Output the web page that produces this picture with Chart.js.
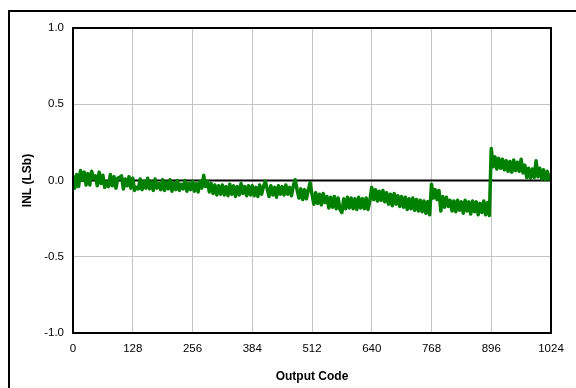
<!DOCTYPE html>
<html>
<head>
<meta charset="utf-8">
<script src="https://cdn.jsdelivr.net/npm/chart.js@4"></script>
<style>
  html, body { margin: 0; padding: 0; background: #fff; }
  #wrap { position: relative; width: 576px; height: 388px; overflow: hidden; }
  #frame { position: absolute; left: 8px; top: 10px; width: 620px; height: 420px; border: 2px solid #000; }
  canvas { position: absolute; left: 0; top: 0; }
</style>
</head>
<body>
<div id="wrap">
  <div id="frame"></div>
  <canvas id="chartInl" width="576" height="388"></canvas>
</div>
<script>
// INL, one value every 4 codes (0..1024)
const codeStep = 4;
const inlValues = [
  0.03, -0.05, 0.04, -0.04, 0.065, 0.0, 0.055, -0.03, 0.045, -0.03, 0.06, 0.015, 0.03, -0.035, 0.055, -0.02,
  0.035, -0.045, -0.01, -0.04, 0.04, -0.035, 0.025, -0.05, 0.015, 0.02, 0.03, -0.055, 0.01, -0.035, 0.025, -0.05,
  0.015, -0.065, -0.045, -0.055, 0.01, -0.06, -0.005, -0.05, 0.015, -0.055, -0.01, -0.065, 0.01, -0.05, -0.02, -0.06,
  0.005, -0.065, -0.01, -0.055, 0.005, -0.07, -0.015, -0.06, 0.0, -0.065, -0.025, -0.055, 0.0, -0.07, -0.02, -0.06,
  -0.005, -0.07, -0.02, -0.075, -0.005, -0.05, 0.035, -0.04, -0.005, -0.075, -0.02, -0.085, -0.03, -0.095, -0.035, -0.09,
  -0.03, -0.095, -0.04, -0.1, -0.025, -0.09, -0.035, -0.105, -0.04, -0.095, -0.02, -0.085, -0.04, -0.1, -0.035, -0.095,
  -0.035, -0.1, -0.045, -0.105, -0.03, -0.09, -0.04, -0.005, -0.055, -0.105, -0.035, -0.095, -0.045, -0.11, -0.035, -0.09,
  -0.04, -0.095, -0.03, -0.09, -0.045, -0.1, -0.035, 0.005, -0.06, -0.115, -0.055, -0.125, -0.06, -0.12, -0.065, -0.015,
  -0.09, -0.155, -0.08, -0.15, -0.09, -0.16, -0.085, -0.145, -0.105, -0.18, -0.11, -0.175, -0.105, -0.185, -0.115, -0.19,
  -0.21, -0.12, -0.185, -0.11, -0.18, -0.115, -0.185, -0.12, -0.19, -0.11, -0.18, -0.12, -0.185, -0.115, -0.19, -0.13,
  -0.045, -0.125, -0.06, -0.135, -0.07, -0.13, -0.065, -0.14, -0.08, -0.155, -0.09, -0.165, -0.085, -0.155, -0.1, -0.17,
  -0.105, -0.175, -0.11, -0.19, -0.12, -0.185, -0.115, -0.195, -0.125, -0.2, -0.13, -0.205, -0.135, -0.215, -0.14, -0.225,
  -0.025, -0.115, -0.06, -0.125, -0.065, -0.2, -0.105, -0.175, -0.11, -0.17, -0.13, -0.2, -0.135, -0.205, -0.13, -0.195,
  -0.14, -0.215, -0.13, -0.2, -0.14, -0.22, -0.135, -0.205, -0.14, -0.225, -0.15, -0.21, -0.135, -0.225, -0.145, -0.23,
  0.21, 0.09, 0.155, 0.075, 0.145, 0.08, 0.14, 0.07, 0.13, 0.06, 0.125, 0.055, 0.135, 0.065, 0.12, 0.06,
  0.14, 0.05, 0.1, 0.02, 0.08, 0.015, 0.075, 0.02, 0.13, 0.025, 0.08, 0.01, 0.07, 0.005, 0.06, 0.01,
  0.04
];
const zeroLine = [0, 0];
const xTicks = [0, 128, 256, 384, 512, 640, 768, 896, 1024];
const yTicks = [-1.0, -0.5, 0.0, 0.5, 1.0];

const inlPoints = inlValues.map((v, i) => ({ x: i * codeStep, y: v }));
const zeroPoints = zeroLine.map((v, i) => ({ x: i === 0 ? xTicks[0] : xTicks[xTicks.length - 1], y: v }));

const frameBox = {
  id: "frameBox",
  afterDraw(chart) {
    const { ctx, chartArea: a } = chart;
    ctx.save();
    ctx.strokeStyle = "#000";
    ctx.lineWidth = 2;
    ctx.strokeRect(a.left, a.top, a.right - a.left, a.bottom - a.top);
    ctx.restore();
  }
};

const tickFont = { family: "Arial, 'Liberation Sans', sans-serif", size: 11.5 };
const titleFont = { family: "Arial, 'Liberation Sans', sans-serif", size: 12, weight: "bold" };

new Chart(document.getElementById("chartInl").getContext("2d"), {
  type: "line",
  data: {
    datasets: [
      {
        data: inlPoints,
        borderColor: "#008000",
        borderWidth: 3.5,
        borderJoinStyle: "round",
        borderCapStyle: "round",
        pointRadius: 0,
        tension: 0,
        order: 1
      },
      {
        data: zeroPoints,
        borderColor: "#000",
        borderWidth: 2,
        pointRadius: 0,
        order: 2
      }
    ]
  },
  options: {
    responsive: false,
    animation: false,
    events: [],
    layout: { padding: { top: 28, right: 25, left: 0, bottom: 0 } },
    plugins: { legend: { display: false }, tooltip: { enabled: false } },
    scales: {
      x: {
        type: "linear",
        min: xTicks[0],
        max: xTicks[xTicks.length - 1],
        afterBuildTicks: s => { s.ticks = xTicks.map(v => ({ value: v })); },
        afterFit: s => { s.height = 55; },
        ticks: { color: "#000", font: tickFont, padding: 9, maxRotation: 0, callback: v => String(v) },
        grid: { color: "#c4c4c4", lineWidth: 1, drawTicks: false },
        border: { color: "#000", width: 2 },
        title: { display: true, text: "Output Code", color: "#000", font: titleFont, padding: { top: 0, bottom: 4 } }
      },
      y: {
        min: yTicks[0],
        max: yTicks[yTicks.length - 1],
        afterBuildTicks: s => { s.ticks = yTicks.map(v => ({ value: v })); },
        afterFit: s => { s.width = 73; },
        ticks: { color: "#000", font: tickFont, padding: 9, callback: v => v.toFixed(1) },
        grid: { color: "#c4c4c4", lineWidth: 1, drawTicks: false },
        border: { color: "#000", width: 2 },
        title: { display: true, text: "INL (LSb)", color: "#000", font: titleFont, padding: { top: 20, bottom: 0 } }
      }
    }
  },
  plugins: [frameBox]
});
</script>
</body>
</html>
